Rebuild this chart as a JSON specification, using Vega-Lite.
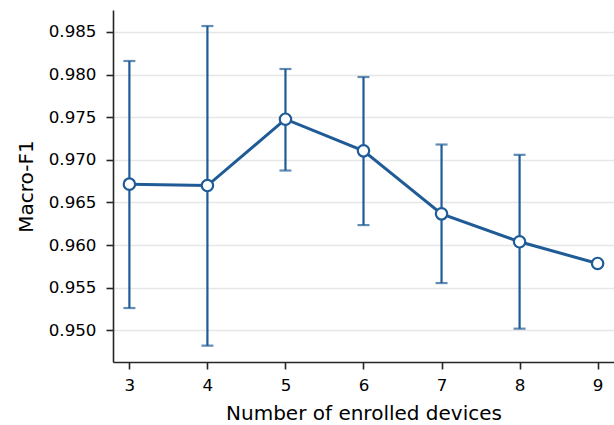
{
  "$schema": "https://vega.github.io/schema/vega-lite/v6.json",
  "width": 501,
  "height": 352,
  "autosize": "none",
  "padding": {"left": 113, "top": 10, "right": 0, "bottom": 63},
  "background": "white",
  "config": {
    "view": {"stroke": null},
    "font": "DejaVu Sans",
    "axis": {
      "labelFont": "DejaVu Sans",
      "titleFont": "DejaVu Sans",
      "labelFontSize": 16.7,
      "titleFontSize": 20,
      "titleFontWeight": "normal",
      "labelColor": "#000000",
      "titleColor": "#000000",
      "domainColor": "#262626",
      "domainWidth": 1.6,
      "tickColor": "#262626",
      "tickWidth": 1.6,
      "tickSize": 7
    }
  },
  "data": {
    "values": [
      {"n": 3, "f1": 0.96715, "lo": 0.95262, "hi": 0.98160},
      {"n": 4, "f1": 0.96699, "lo": 0.94821, "hi": 0.98570},
      {"n": 5, "f1": 0.97477, "lo": 0.96875, "hi": 0.98066},
      {"n": 6, "f1": 0.97106, "lo": 0.96235, "hi": 0.97972},
      {"n": 7, "f1": 0.96367, "lo": 0.95555, "hi": 0.97180},
      {"n": 8, "f1": 0.96039, "lo": 0.95020, "hi": 0.97059},
      {"n": 9, "f1": 0.95785, "lo": null, "hi": null}
    ]
  },
  "encoding": {
    "x": {
      "field": "n",
      "type": "quantitative",
      "scale": {"domain": [2.79, 9.21], "nice": false, "zero": false},
      "axis": {
        "title": "Number of enrolled devices",
        "values": [3, 4, 5, 6, 7, 8, 9],
        "grid": false,
        "labelPadding": 8,
        "titlePadding": 10
      }
    }
  },
  "layer": [
    {
      "mark": {"type": "rule", "color": "#1f5b96", "strokeWidth": 2.2},
      "transform": [{"filter": "datum.lo != null"}],
      "encoding": {
        "y": {
          "field": "lo",
          "type": "quantitative",
          "scale": {"domain": [0.94629, 0.98758], "nice": false, "zero": false},
          "axis": {
            "title": "Macro-F1",
            "values": [0.95, 0.955, 0.96, 0.965, 0.97, 0.975, 0.98, 0.985],
            "format": ".3f",
            "grid": true,
            "gridColor": "#e6e6e6",
            "gridWidth": 1.5,
            "labelPadding": 10,
            "titlePadding": 12
          }
        },
        "y2": {"field": "hi"}
      }
    },
    {
      "mark": {"type": "tick", "orient": "horizontal", "color": "#1f5b96", "size": 12, "thickness": 2.2},
      "transform": [{"filter": "datum.lo != null"}],
      "encoding": {"y": {"field": "lo", "type": "quantitative"}}
    },
    {
      "mark": {"type": "tick", "orient": "horizontal", "color": "#1f5b96", "size": 12, "thickness": 2.2},
      "transform": [{"filter": "datum.lo != null"}],
      "encoding": {"y": {"field": "hi", "type": "quantitative"}}
    },
    {
      "mark": {"type": "line", "color": "#1f5b96", "strokeWidth": 3},
      "encoding": {"y": {"field": "f1", "type": "quantitative"}}
    },
    {
      "mark": {"type": "point", "shape": "circle", "filled": true, "fill": "white", "stroke": "#1f5b96", "strokeWidth": 2.2, "size": 130, "opacity": 1},
      "encoding": {"y": {"field": "f1", "type": "quantitative"}}
    }
  ]
}
